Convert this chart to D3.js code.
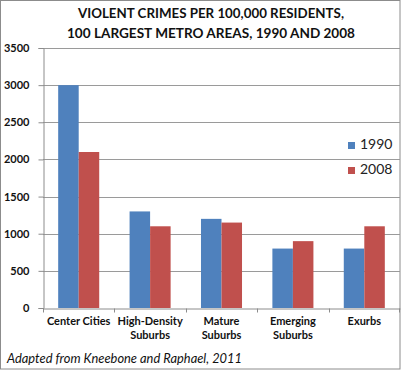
<!DOCTYPE html>
<html>
<head>
<meta charset="utf-8">
<script src="https://cdn.jsdelivr.net/npm/d3@7"></script>
<style>
  body{margin:0;background:#fff;}
  text{font-family:Lato,"Liberation Sans",sans-serif;}
</style>
</head>
<body>
<div class="container"></div>
<script>
// data
const categories=[["Center Cities"],["High-Density","Suburbs"],["Mature","Suburbs"],["Emerging","Suburbs"],["Exurbs"]];
const seriesNames=["1990","2008"];
const values1990=[3000,1300,1200,800,800];
const values2008=[2100,1100,1150,900,1100];
const yTicks=[0,500,1000,1500,2000,2500,3000,3500];
const colors=["#4f81bd","#c0504d"];

const W=403,H=372;
const svg=d3.select(".container").append("svg").attr("width",W).attr("height",H);

svg.append("rect").attr("x",0).attr("y",0).attr("width",W).attr("height",H).attr("fill","#fff");
// chart frame
svg.append("rect").attr("x",0.5).attr("y",0.5).attr("width",399.5).attr("height",368.5)
  .attr("fill","#fff").attr("stroke","#8c8c8c");

const plotL=43,plotR=400,plotT=48,plotB=308;
const keys=categories.map(c=>c.join(" "));
const x=d3.scaleBand().domain(keys).range([plotL,plotR]);
const xs=d3.scaleBand().domain(seriesNames).range([0,x.bandwidth()]).paddingInner(0).paddingOuter(0.74);
const y=d3.scaleLinear().domain([0,3500]).range([plotB,plotT]);

// grid
svg.append("g").selectAll("line").data(yTicks.filter(d=>d>0)).join("line")
  .attr("x1",plotL).attr("x2",plotR)
  .attr("y1",d=>Math.round(y(d))+0.5).attr("y2",d=>Math.round(y(d))+0.5)
  .attr("stroke","#9a9a9a");

// bars
const data=keys.map((k,i)=>({k,vals:[values1990[i],values2008[i]]}));
const grp=svg.append("g").selectAll("g").data(data).join("g")
  .attr("transform",d=>`translate(${x(d.k)},0)`);
grp.selectAll("rect").data(d=>d.vals.map((v,j)=>({v,s:seriesNames[j],j}))).join("rect")
  .attr("x",d=>xs(d.s)).attr("width",xs.bandwidth())
  .attr("y",d=>y(d.v)).attr("height",d=>y(0)-y(d.v))
  .attr("fill",d=>colors[d.j]);

// y axis
const yAxis=svg.append("g").attr("transform",`translate(${plotL+0.5},0)`)
  .call(d3.axisLeft(y).tickValues(yTicks).tickSize(5).tickPadding(9).tickFormat(d3.format("d")));
yAxis.select(".domain").attr("stroke","#8c8c8c");
yAxis.selectAll(".tick line").attr("stroke","#8c8c8c");
yAxis.selectAll(".tick text").attr("font-family","Lato,sans-serif").attr("font-weight","bold")
  .attr("font-size",11).attr("fill","#111");

// x axis
const xAxis=svg.append("g").attr("transform",`translate(0,${plotB+0.5})`)
  .call(d3.axisBottom(x).tickSize(0).tickFormat(""));
xAxis.select(".domain").attr("stroke","#8c8c8c");
xAxis.selectAll(".tick").remove();
xAxis.selectAll("line.sep").data(keys.concat(["end"])).join("line").attr("class","sep")
  .attr("x1",(d,i)=>i<keys.length?Math.round(x(d))+0.5:plotR-0.5)
  .attr("x2",(d,i)=>i<keys.length?Math.round(x(d))+0.5:plotR-0.5)
  .attr("y1",0).attr("y2",4).attr("stroke","#8c8c8c");

svg.append("g").selectAll("text").data(categories).join("text")
  .attr("text-anchor","middle").attr("font-weight","bold").attr("font-size",11).attr("fill","#111")
  .attr("transform",(d,i)=>`translate(${x(keys[i])+x.bandwidth()/2},325)`)
  .selectAll("tspan").data(d=>d).join("tspan")
  .attr("x",0).attr("dy",(d,i)=>i?14:0).text(d=>d);

// title
svg.append("g").selectAll("text")
  .data([["VIOLENT CRIMES PER 100,000 RESIDENTS,",18,266],["100 LARGEST METRO AREAS, 1990 AND 2008",38,288]])
  .join("text").attr("x",211).attr("y",d=>d[1]).attr("text-anchor","middle")
  .attr("font-weight","bold").attr("font-size",14).attr("fill","#111")
  .attr("textLength",d=>d[2]).attr("lengthAdjust","spacingAndGlyphs").text(d=>d[0]);

// legend
const leg=svg.append("g").selectAll("g").data(seriesNames).join("g")
  .attr("transform",(d,i)=>`translate(348,${142+i*25})`);
leg.append("rect").attr("width",7).attr("height",7).attr("fill",(d,i)=>colors[i]);
leg.append("text").attr("x",12).attr("y",7).attr("font-size",14).attr("fill","#222").text(d=>d);

// source note
svg.append("text").attr("x",7).attr("y",363).attr("font-style","italic").attr("font-size",13)
  .attr("fill","#111").attr("textLength",235).attr("lengthAdjust","spacingAndGlyphs")
  .text("Adapted from Kneebone and Raphael, 2011");
</script>
</body>
</html>
